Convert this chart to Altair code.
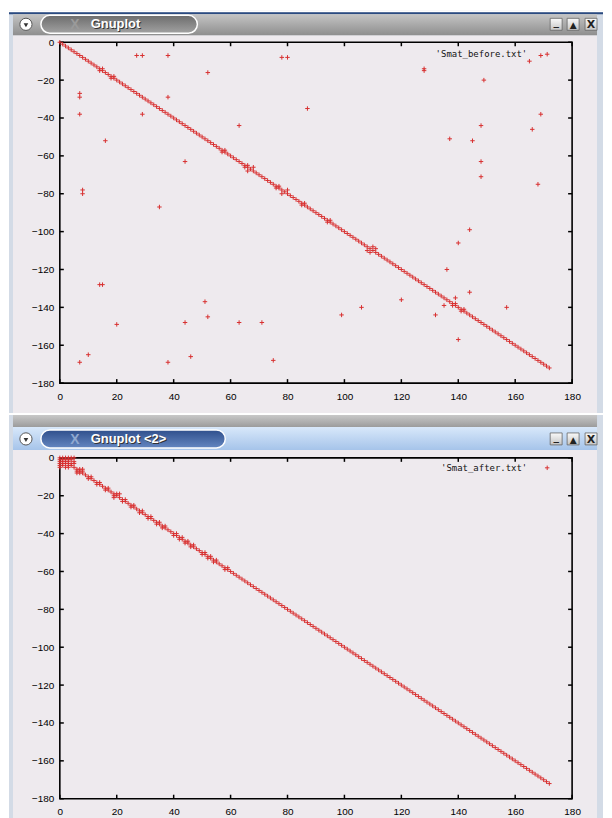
import altair as alt
import pandas as pd

# ---------------- data ----------------
# every diagonal entry of the 173x173 matrix is non-zero
diag_idx = [
    0, 1, 2, 3, 4, 5, 6, 7, 8, 9, 10, 11, 12, 13, 14, 15, 16, 17, 18, 19,
    20, 21, 22, 23, 24, 25, 26, 27, 28, 29, 30, 31, 32, 33, 34, 35, 36, 37, 38, 39,
    40, 41, 42, 43, 44, 45, 46, 47, 48, 49, 50, 51, 52, 53, 54, 55, 56, 57, 58, 59,
    60, 61, 62, 63, 64, 65, 66, 67, 68, 69, 70, 71, 72, 73, 74, 75, 76, 77, 78, 79,
    80, 81, 82, 83, 84, 85, 86, 87, 88, 89, 90, 91, 92, 93, 94, 95, 96, 97, 98, 99,
    100, 101, 102, 103, 104, 105, 106, 107, 108, 109, 110, 111, 112, 113, 114, 115,
    116, 117, 118, 119, 120, 121, 122, 123, 124, 125, 126, 127, 128, 129, 130, 131,
    132, 133, 134, 135, 136, 137, 138, 139, 140, 141, 142, 143, 144, 145, 146, 147,
    148, 149, 150, 151, 152, 153, 154, 155, 156, 157, 158, 159, 160, 161, 162, 163,
    164, 165, 166, 167, 168, 169, 170, 171, 172,
]

# symmetric off-diagonal entries (i < j), drawn at (i, -j) and (j, -i)
before_i = [7, 7, 7, 29, 16, 8, 8, 44, 35, 14, 15, 7, 10, 20, 38, 44, 46, 51, 52,
            63, 71, 75, 99, 106, 120, 132, 135, 140,
            14, 18, 57, 65, 66, 76, 78, 85, 94, 108, 109, 138, 141]
before_j = [27, 29, 38, 38, 52, 78, 80, 63, 87, 128, 128, 169, 165, 149, 169, 148, 166, 137, 145,
            148, 148, 168, 144, 140, 136, 144, 139, 157,
            15, 19, 58, 66, 68, 77, 80, 86, 95, 110, 111, 139, 142]

after_i = [0, 0, 0, 0, 0, 1, 1, 2, 1, 2, 3, 3, 6, 6, 7, 10, 13, 16, 19, 19,
           22, 25, 28, 31, 34, 36, 40, 42, 44, 46, 50, 52, 54, 58]
after_j = [1, 2, 3, 4, 5, 2, 3, 3, 4, 5, 5, 4, 7, 8, 8, 11, 14, 17, 20, 21,
           23, 26, 29, 32, 35, 37, 41, 43, 45, 47, 51, 53, 55, 59]

x_ticks = [0, 20, 40, 60, 80, 100, 120, 140, 160, 180]
y_ticks = [0, -20, -40, -60, -80, -100, -120, -140, -160, -180]

legend_before = "'Smat_before.txt'"
legend_after = "'Smat_after.txt'"
title_before = "Gnuplot"
title_after = "Gnuplot <2>"

# ---------------- style ----------------
W, H = 514, 342
RED = "#d83030"
PLOT_BG = "#eeeaee"
PAGE_BG = "#d3dbe6"
PLUS = "M-1,0L1,0M0,-1L0,1"
FONT = "Liberation Sans"
PT_SIZE = 20

x_scale = alt.Scale(domain=[0, 180], nice=False, zero=False)
y_scale = alt.Scale(domain=[-180, 0], nice=False, zero=False)
x_axis = alt.Axis(values=x_ticks, ticks=False, domain=False, grid=False, title=None,
                  labelPadding=8, labelFontSize=10, labelFont=FONT, labelColor="black",
                  labelFlush=False, labelOverlap=False, zindex=1)
y_axis = alt.Axis(values=y_ticks, ticks=False, domain=False, grid=False, title=None,
                  labelPadding=6, labelFontSize=10, labelFont=FONT, labelColor="black",
                  labelFlush=False, labelOverlap=False, zindex=1)

one = alt.Data(values=[{"k": 1}])


def box(x, x2, y, y2, **kw):
    return alt.Chart(one).mark_rect(**kw).encode(
        x=alt.value(x), x2=alt.value(x2), y=alt.value(y), y2=alt.value(y2))


def txt(s, x, y, **kw):
    return alt.Chart(one).mark_text(**kw).encode(
        x=alt.value(x), y=alt.value(y), text=alt.value(s))


def grad(c1, c2):
    return {"gradient": "linear", "x1": 0, "x2": 0, "y1": 0, "y2": 1,
            "stops": [{"offset": 0, "color": c1}, {"offset": 1, "color": c2}]}


def points_df(i_list, j_list):
    cols = diag_idx + i_list + j_list
    rows = diag_idx + j_list + i_list
    return pd.DataFrame({"col": cols, "row": [-r for r in rows]})


def plot_layers(df, legend_text, legend_y):
    tx = pd.DataFrame({"v": x_ticks})
    ty = pd.DataFrame({"v": y_ticks})
    xe = alt.X("v:Q", scale=x_scale, axis=x_axis)
    ye = alt.Y("v:Q", scale=y_scale, axis=y_axis)
    tick_b = alt.Chart(tx).mark_rule(color="black", strokeWidth=1.5).encode(
        x=xe, y=alt.value(H), y2=alt.value(H - 4))
    tick_t = alt.Chart(tx).mark_rule(color="black", strokeWidth=1.5).encode(
        x=xe, y=alt.value(0), y2=alt.value(4))
    tick_l = alt.Chart(ty).mark_rule(color="black", strokeWidth=1.5).encode(
        y=ye, x=alt.value(0), x2=alt.value(4))
    tick_r = alt.Chart(ty).mark_rule(color="black", strokeWidth=1.5).encode(
        y=ye, x=alt.value(W - 4), x2=alt.value(W))
    border = box(0, W, 0, H, filled=False, stroke="black", strokeWidth=1.6)
    leg_t = txt(legend_text, 469, legend_y, align="right", baseline="middle",
                font="DejaVu Sans Mono", fontSize=9, color="#111")
    leg_p = alt.Chart(one).mark_point(shape=PLUS, filled=False, color=RED, size=PT_SIZE,
                                      strokeWidth=1, opacity=1).encode(
        x=alt.value(489), y=alt.value(legend_y))
    pts = alt.Chart(df).mark_point(shape=PLUS, filled=False, color=RED, size=PT_SIZE,
                                   strokeWidth=1, opacity=1).encode(
        x=alt.X("col:Q", scale=x_scale, axis=x_axis),
        y=alt.Y("row:Q", scale=y_scale, axis=y_axis))
    return [tick_b, tick_t, tick_l, tick_r, border, leg_t, leg_p, pts]


def title_bar(title, bar_y, bar_y2, pill_x2, cy, bar_grad, pill_grad, icon_col):
    layers = [
        box(-47, 539, bar_y, bar_y2, color=bar_grad),
        box(-19, pill_x2, cy - 9, cy + 9, color=pill_grad, cornerRadius=9,
            stroke="white", strokeWidth=1.5),
        alt.Chart(one).mark_point(shape="circle", filled=True, color="white", size=150,
                                  stroke="#555", strokeWidth=1, opacity=1).encode(
            x=alt.value(-34), y=alt.value(cy)),
        alt.Chart(one).mark_point(shape="triangle-down", filled=True, color="#333",
                                  size=22, opacity=1).encode(
            x=alt.value(-34), y=alt.value(cy + 1)),
        txt("X", 15, cy + 1, align="center", baseline="middle", font=FONT,
            fontSize=14, fontWeight="bold", color=icon_col),
        txt(title, 32, cy + 1, align="left", baseline="middle", font=FONT,
            fontSize=13, fontWeight="bold", color="#333"),
        txt(title, 31, cy, align="left", baseline="middle", font=FONT,
            fontSize=13, fontWeight="bold", color="white"),
    ]
    for bx, glyph in [(498, "_"), (515, "▲"), (533, "X")]:
        layers.append(box(bx - 6, bx + 6, cy - 6, cy + 6,
                          color=grad("#fafafa", "#c4c4c4"), stroke="#666", strokeWidth=0.8))
        layers.append(txt(glyph, bx, cy + (-2 if glyph == "_" else 1), align="center",
                          baseline="middle", font="DejaVu Sans", fontSize=9 if glyph == "▲" else 11,
                          fontWeight="bold", color="#222"))
    return layers


# ---------------- top window ----------------
top_deco = [
    box(-51, 545, -32, 372, color=PAGE_BG),
    box(-51, 545, -32, -30, color="white"),
    box(-51, 545, -30, -28, color="#2a4a80"),
    box(-47, 539, -7, 372, color=PLOT_BG),
] + title_bar(title_before, -28, -7, 138, -18,
              grad("#c4c4c4", "#8e8e8e"), grad("#6c6c6c", "#a2a2a2"), "#9a9a9a")

top = alt.layer(*(top_deco + plot_layers(points_df(before_i, before_j), legend_before, 12))
                ).properties(width=W, height=H)

# ---------------- bottom window ----------------
bot_deco = [
    box(-51, 545, -43, 363, color=PAGE_BG),
    box(-47, 539, -43, -31, color=grad("#c8c8c8", "#9c9c9c")),
    box(-47, 539, -8, 363, color=PLOT_BG),
] + title_bar(title_after, -31, -8, 166, -19,
              grad("#d8e8fa", "#a6c4ea"), grad("#2f4f8c", "#6486c0"), "#8fa8d0")

bottom = alt.layer(*(bot_deco + plot_layers(points_df(after_i, after_j), legend_after, 10))
                   ).properties(width=W, height=H)

chart = alt.vconcat(top, bottom, spacing=0).properties(padding=0).configure_view(
    stroke=None).configure(background="white")

chart.save("out.html", embed_options={"renderer": "svg", "actions": False})
